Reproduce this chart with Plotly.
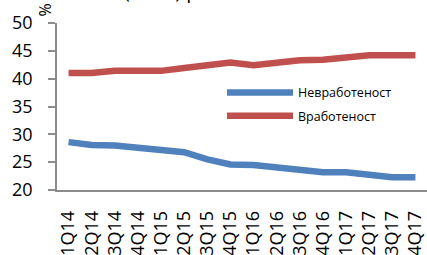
import plotly.graph_objects as go

quarters = ["1Q14", "2Q14", "3Q14", "4Q14", "1Q15", "2Q15", "3Q15", "4Q15",
            "1Q16", "2Q16", "3Q16", "4Q16", "1Q17", "2Q17", "3Q17", "4Q17"]
unemployment = [28.6, 28.1, 28.0, 27.6, 27.2, 26.8, 25.5, 24.6,
                24.5, 24.1, 23.6, 23.2, 23.2, 22.7, 22.3, 22.3]
employment = [41.0, 41.0, 41.4, 41.4, 41.4, 41.9, 42.5, 42.9,
              42.4, 42.9, 43.3, 43.4, 43.8, 44.2, 44.2, 44.2]
yticks = [20, 25, 30, 35, 40, 45, 50]

FONT = "Open Sans"

fig = go.Figure()
fig.add_trace(go.Scatter(x=quarters, y=unemployment, mode="lines", name="Невработеност",
                         legendgroup="a",
                         line=dict(color="#4F81BD", width=6.5)))
fig.add_trace(go.Scatter(x=quarters, y=employment, mode="lines", name="Вработеност",
                         legendgroup="b",
                         line=dict(color="#C0504D", width=6.5)))

fig.update_layout(
    width=427, height=255,
    margin=dict(l=57, r=0, t=23, b=65),
    paper_bgcolor="white", plot_bgcolor="white",
    font=dict(family=FONT, color="#000000"),
    showlegend=True,
    legend=dict(x=0.446, y=0.672, xanchor="left", yanchor="top",
                bgcolor="rgba(0,0,0,0)", font=dict(size=12.5, family=FONT),
                itemwidth=66, tracegroupgap=4),
    xaxis=dict(type="category", range=[-0.5, 15.5], showgrid=False, zeroline=False,
               showline=True, linecolor="#8c8c8c", linewidth=1.5, automargin=False,
               ticks="", tickangle=-90, tickfont=dict(size=18, family=FONT),
               ticklabelstandoff=12),
    yaxis=dict(range=[20, 50], tickvals=yticks, showgrid=False, zeroline=False,
               showline=True, linecolor="#8c8c8c", linewidth=1.5, automargin=False,
               ticks="outside", ticklen=7, tickcolor="#8c8c8c", tickwidth=1.5,
               tickfont=dict(size=18, family=FONT), ticklabelstandoff=12),
    annotations=[
        dict(text="%", xref="paper", yref="paper", x=-0.03, y=1.0, xanchor="center",
             yanchor="bottom", yshift=5, textangle=-90, showarrow=False,
             font=dict(size=16, family=FONT, color="#000")),
        dict(text="(во %) работеност", xref="paper", yref="paper", x=0.416, y=1.0,
             xanchor="center", yanchor="bottom", yshift=17, showarrow=False,
             font=dict(size=20, family=FONT, color="#000")),
    ],
)

fig.write_html("out.html", config={"displayModeBar": False},
               post_script="document.body.style.margin='0';document.body.style.overflow='hidden';")
